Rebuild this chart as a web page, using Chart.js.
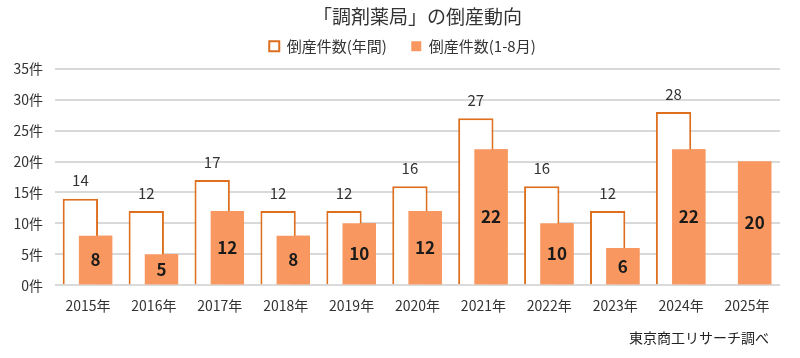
<!DOCTYPE html>
<html>
<head>
<meta charset="utf-8">
<script src="https://cdn.jsdelivr.net/npm/chart.js@4"></script>
<style>
  html, body { margin: 0; padding: 0; background: #fff; }
  #wrap { width: 800px; height: 358px; }
</style>
</head>
<body>
<div id="wrap"><canvas id="chart"></canvas></div>
<script>
const years = ['2015年', '2016年', '2017年', '2018年', '2019年', '2020年', '2021年', '2022年', '2023年', '2024年', '2025年'];
const annualCounts = [14, 12, 17, 12, 12, 16, 27, 16, 12, 28, null];
const janAugCounts = [8, 5, 12, 8, 10, 12, 22, 10, 6, 22, 20];
const yTicks = [0, 5, 10, 15, 20, 25, 30, 35];
const sourceNote = '東京商工リサーチ調べ';

const FONT = '"Noto Sans CJK JP", "Noto Sans", sans-serif';
const ORANGE_LINE = '#DD6F1F';
const ORANGE_FILL = '#F8975F';

// a bit more room under the legend
const legendGap = {
    id: 'legendGap',
    beforeInit(chart) {
        const fit = chart.legend.fit;
        chart.legend.fit = function () {
            fit.call(this);
            this.height += 5;
        };
    }
};

// annual bars sit left and underneath, Jan-Aug bars are redrawn on top of them
const valueLabels = {
    id: 'valueLabels',
    afterDatasetsDraw(chart) {
        const ctx = chart.ctx;
        const front = chart.getDatasetMeta(1);
        front.controller.draw();

        ctx.save();
        ctx.textAlign = 'center';
        ctx.textBaseline = 'middle';

        ctx.font = '15px ' + FONT;
        ctx.fillStyle = '#333';
        chart.getDatasetMeta(0).data.forEach((bar, i) => {
            if (annualCounts[i] == null) return;
            ctx.fillText(annualCounts[i], bar.x, bar.y - 18);
        });

        ctx.font = 'bold 17px ' + FONT;
        ctx.fillStyle = '#1a1a1a';
        front.data.forEach((bar, i) => {
            ctx.fillText(janAugCounts[i], bar.x, (bar.y + bar.base) / 2);
        });
        ctx.restore();
    },
    afterDraw(chart) {
        const ctx = chart.ctx;
        ctx.save();
        ctx.font = '14px ' + FONT;
        ctx.fillStyle = '#222';
        ctx.textAlign = 'right';
        ctx.textBaseline = 'middle';
        ctx.fillText(sourceNote, chart.chartArea.right - 11, 338);
        ctx.restore();
    }
};

new Chart(document.getElementById('chart'), {
    type: 'bar',
    data: {
        labels: years,
        datasets: [
            {
                label: '倒産件数(年間)',
                data: annualCounts,
                backgroundColor: '#fff',
                borderColor: ORANGE_LINE,
                borderWidth: 2,
                categoryPercentage: 0.46,
                barPercentage: 2.33
            },
            {
                label: '倒産件数(1-8月)',
                data: janAugCounts,
                backgroundColor: ORANGE_FILL,
                borderWidth: 0,
                categoryPercentage: 0.46,
                barPercentage: 2.2
            }
        ]
    },
    options: {
        responsive: true,
        maintainAspectRatio: false,
        animation: false,
        layout: { padding: { left: 0, right: 20, top: 0, bottom: 40 } },
        plugins: {
            title: {
                display: true,
                fullSize: false,
                text: '「調剤薬局」の倒産動向',
                color: '#333',
                font: { family: FONT, size: 19, weight: 'normal' },
                padding: { top: 5, bottom: 5 }
            },
            legend: {
                display: true,
                fullSize: false,
                labels: {
                    color: '#333',
                    font: { family: FONT, size: 15 },
                    boxWidth: 10,
                    boxHeight: 10,
                    padding: 6,
                    generateLabels(chart) {
                        const items = Chart.defaults.plugins.legend.labels.generateLabels(chart);
                        items[0].text += '\u3000 ';
                        items[1].text += '\u3000\u3000';
                        return items;
                    }
                }
            },
            tooltip: { enabled: false }
        },
        scales: {
            x: {
                grid: { display: false },
                border: { display: false },
                ticks: {
                    color: '#333',
                    font: { family: FONT, size: 14 },
                    padding: 4
                }
            },
            y: {
                min: 0,
                max: 35,
                afterBuildTicks(scale) {
                    scale.ticks = yTicks.map(v => ({ value: v }));
                },
                afterFit(scale) {
                    scale.width = 55;
                },
                grid: { color: '#d9d9d9', lineWidth: 2, drawTicks: false },
                border: { display: false },
                ticks: {
                    color: '#333',
                    font: { family: FONT, size: 14 },
                    padding: 12,
                    callback: v => v + '件'
                }
            }
        }
    },
    plugins: [legendGap, valueLabels]
});
</script>
</body>
</html>
